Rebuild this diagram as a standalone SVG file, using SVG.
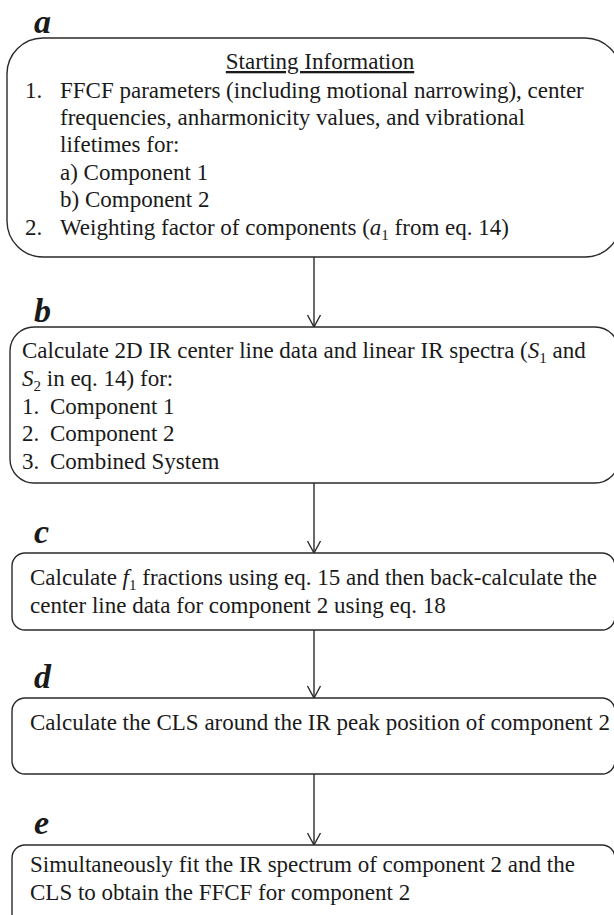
<svg xmlns="http://www.w3.org/2000/svg" width="614" height="915" viewBox="0 0 614 915">
<style>
.box{fill:#fff;stroke:#2a2a2a;stroke-width:1.4}
.t{font-family:"Liberation Serif","Times New Roman",serif;font-size:23px;fill:#1a1a1a}
.lbl{font-family:"Liberation Serif","Times New Roman",serif;font-size:34px;font-weight:bold;font-style:italic;fill:#1a1a1a}
.i{font-style:italic}
.sub{font-size:15px}
.conn{stroke:#2a2a2a;stroke-width:1.4;fill:none}
</style>
<defs>
<marker id="arr" markerUnits="userSpaceOnUse" markerWidth="16" markerHeight="16" viewBox="0 0 16 16" refX="13" refY="8" orient="auto">
<path d="M1,1.5 L13,8 L1,14.5" fill="none" stroke="#2a2a2a" stroke-width="1.4"/>
</marker>
</defs>
<rect width="614" height="915" fill="#fff"/>
<g id="connectors">
<line class="conn" x1="314" y1="257" x2="314" y2="327" marker-end="url(#arr)"/>
<line class="conn" x1="314" y1="483" x2="314" y2="553" marker-end="url(#arr)"/>
<line class="conn" x1="314" y1="630" x2="314" y2="698" marker-end="url(#arr)"/>
<line class="conn" x1="314" y1="774" x2="314" y2="845" marker-end="url(#arr)"/>
</g>
<g id="node-a">
<text class="lbl" x="34" y="33">a</text>
<rect class="box" x="7" y="38" width="614" height="219" rx="36" ry="36"/>
<text class="t" x="320" y="69" text-anchor="middle" text-decoration="underline">Starting Information</text>
<text class="t" x="25" y="98">1.</text>
<text class="t" x="60" y="98">FFCF parameters (including motional narrowing), center</text>
<text class="t" x="60" y="125">frequencies, anharmonicity values, and vibrational</text>
<text class="t" x="60" y="152">lifetimes for:</text>
<text class="t" x="60" y="180">a) Component 1</text>
<text class="t" x="60" y="207">b) Component 2</text>
<text class="t" x="25" y="235">2.</text>
<text class="t" x="60" y="235">Weighting factor of components (<tspan class="i">a</tspan><tspan class="sub" dy="5">1</tspan><tspan dy="-5"> from eq. 14)</tspan></text>
</g>
<g id="node-b">
<text class="lbl" x="34" y="322">b</text>
<rect class="box" x="10" y="327" width="609" height="156" rx="24" ry="24"/>
<text class="t" x="22" y="358">Calculate 2D IR center line data and linear IR spectra (<tspan class="i">S</tspan><tspan class="sub" dy="5">1</tspan><tspan dy="-5"> and</tspan></text>
<text class="t" x="22" y="386"><tspan class="i">S</tspan><tspan class="sub" dy="5">2</tspan><tspan dy="-5"> in eq. 14) for:</tspan></text>
<text class="t" x="22" y="414">1.</text>
<text class="t" x="50" y="414">Component 1</text>
<text class="t" x="22" y="441">2.</text>
<text class="t" x="50" y="441">Component 2</text>
<text class="t" x="22" y="469">3.</text>
<text class="t" x="50" y="469">Combined System</text>
</g>
<g id="node-c">
<text class="lbl" x="34" y="543">c</text>
<rect class="box" x="12" y="553" width="603" height="77" rx="13" ry="13"/>
<text class="t" x="30" y="585">Calculate <tspan class="i">f</tspan><tspan class="sub" dy="5">1</tspan><tspan dy="-5"> fractions using eq. 15 and then back-calculate the</tspan></text>
<text class="t" x="30" y="613">center line data for component 2 using eq. 18</text>
</g>
<g id="node-d">
<text class="lbl" x="34" y="688">d</text>
<rect class="box" x="12" y="698" width="603" height="76" rx="13" ry="13"/>
<text class="t" x="30" y="730">Calculate the CLS around the IR peak position of component 2</text>
</g>
<g id="node-e">
<text class="lbl" x="34" y="834">e</text>
<rect class="box" x="12" y="845" width="603" height="90" rx="13" ry="13"/>
<text class="t" x="30" y="872">Simultaneously fit the IR spectrum of component 2 and the</text>
<text class="t" x="30" y="900">CLS to obtain the FFCF for component 2</text>
</g>
</svg>
